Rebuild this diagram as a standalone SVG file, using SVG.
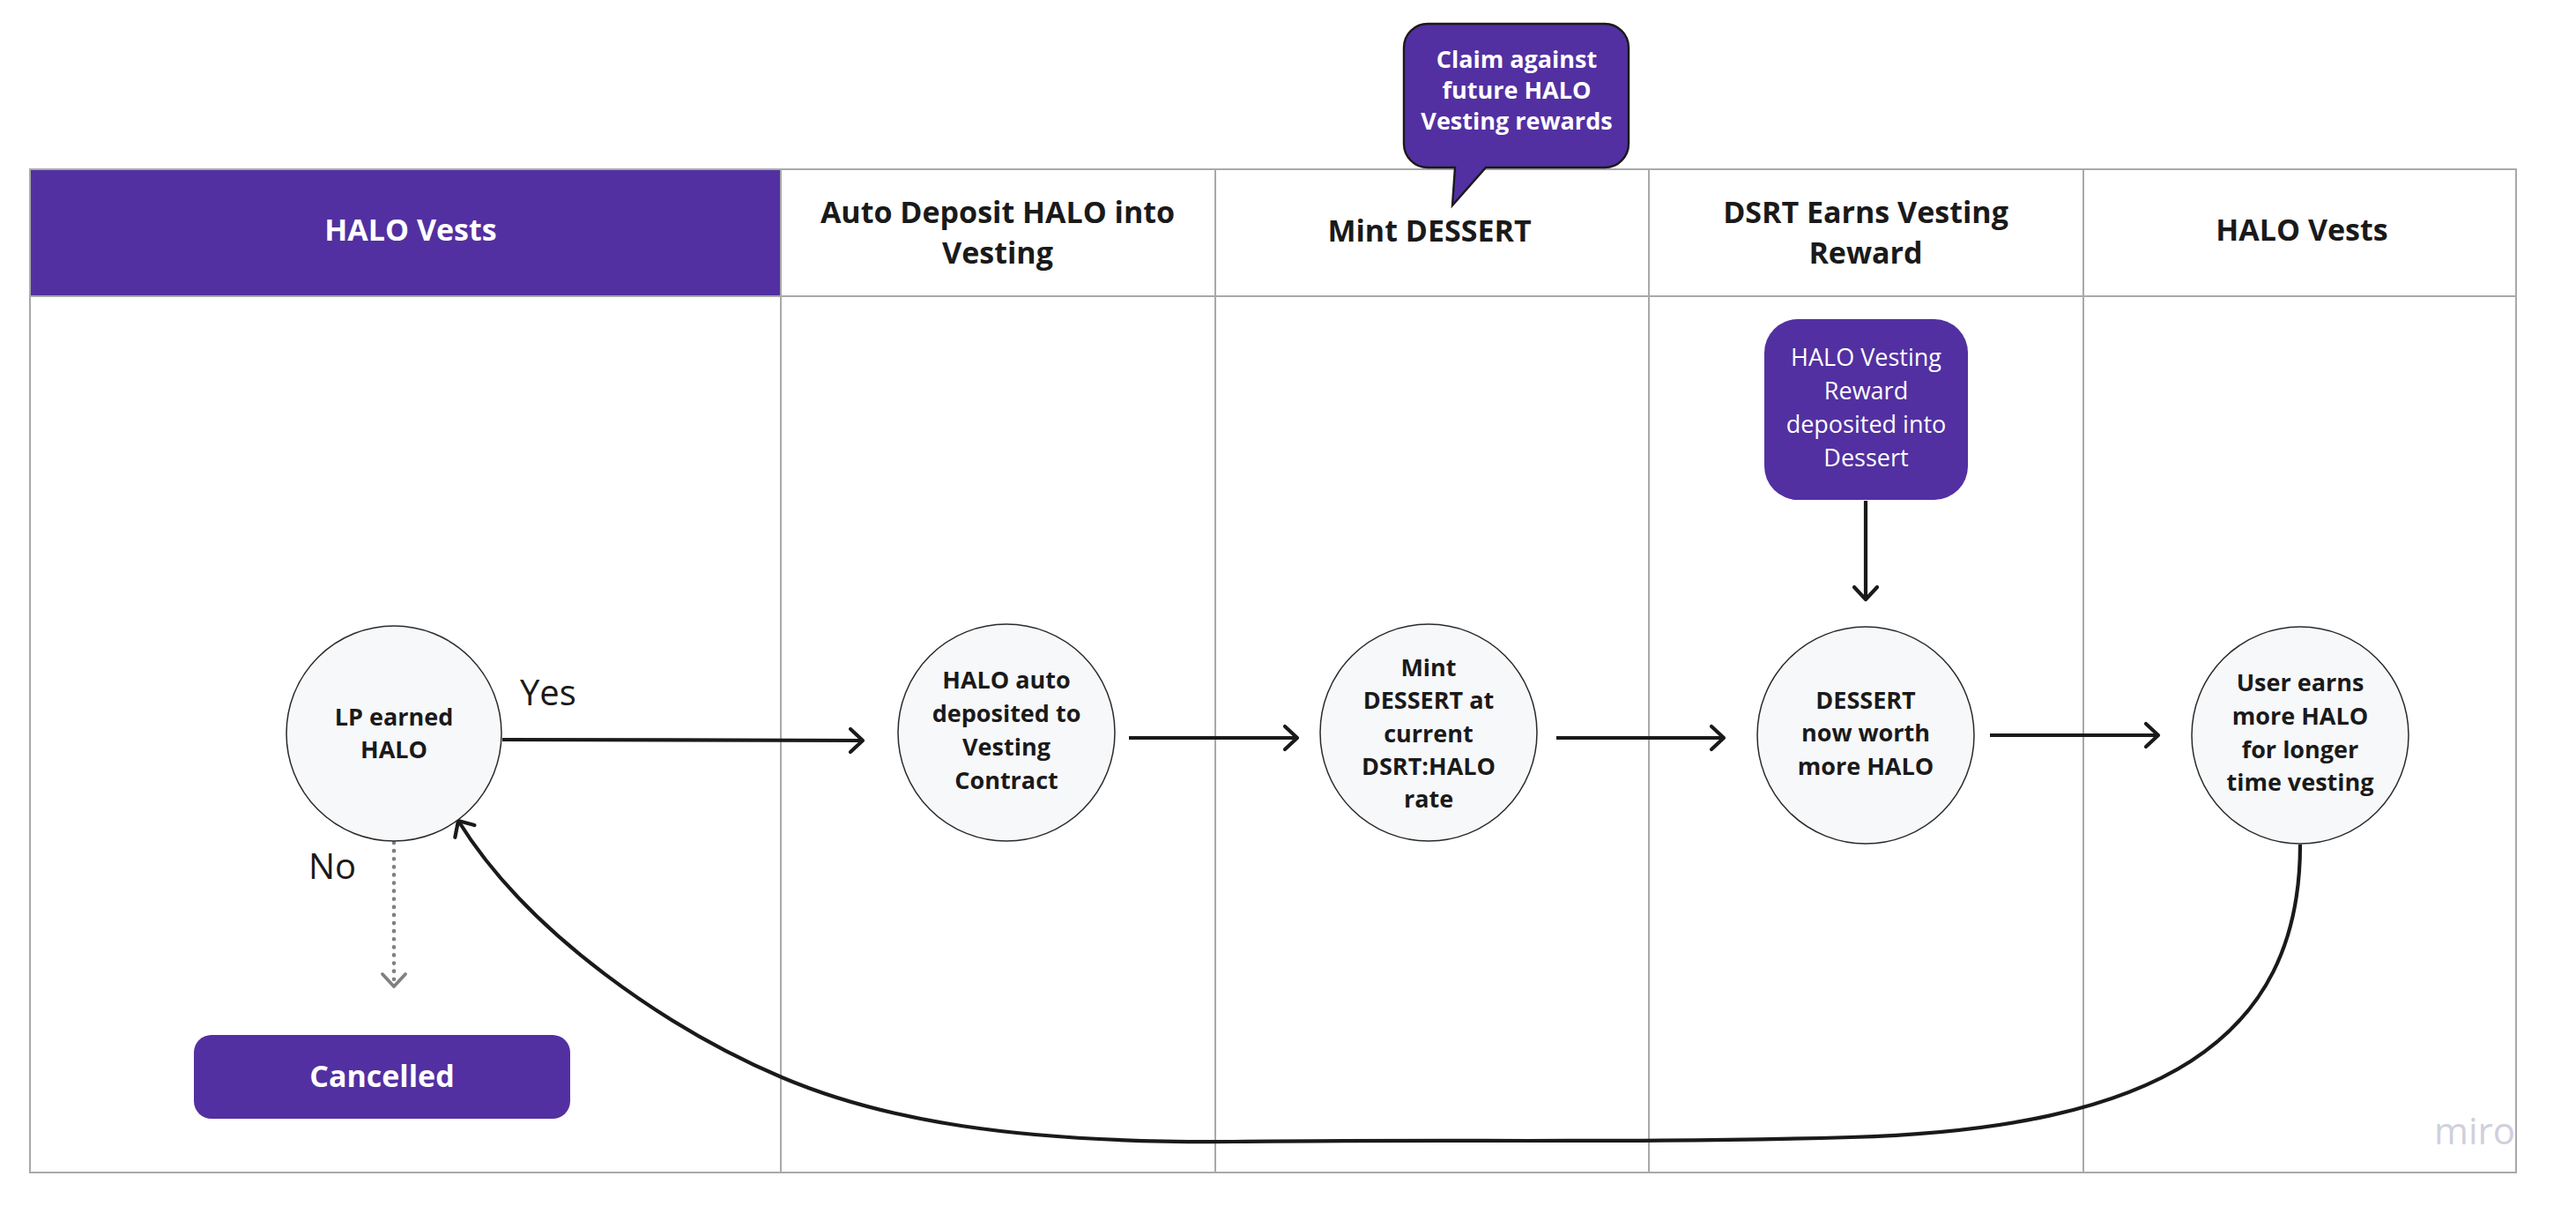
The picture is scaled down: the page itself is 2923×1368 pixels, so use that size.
<svg xmlns="http://www.w3.org/2000/svg" width="2923" height="1368" viewBox="0 0 2923 1368">
<style>
  text { font-family: "Open Sans", "Liberation Sans", sans-serif; fill: #1a1a1a; }
  .hdr { font-size: 34px; font-weight: 700; text-anchor: middle; }
  .hdr-w { fill: #ffffff; }
  .grid { stroke: #a9a9a9; stroke-width: 2; fill: none; }
  .circ { fill: #f7f8fa; stroke: #2a2a2a; stroke-width: 1.5; }
  .ct { font-size: 27px; font-weight: 700; text-anchor: middle; }
  .purple { fill: #5230a1; }
  .wt { fill: #ffffff; text-anchor: middle; }
  .lbl { font-size: 40px; font-weight: 400; }
  .conn { fill: none; stroke: #1a1a1a; stroke-width: 4.2; }
  .dot { fill: none; stroke: #808080; stroke-width: 4.6; stroke-dasharray: 0.1 9; stroke-linecap: round; }
</style>
<defs>
  <marker id="arr" viewBox="-18 -16 22 32" refX="0" refY="0" markerWidth="22" markerHeight="32" markerUnits="userSpaceOnUse" orient="auto" overflow="visible">
    <path d="M-14,-13 L0,0 L-14,13" fill="none" stroke="#1a1a1a" stroke-width="4.2" stroke-linecap="round" stroke-linejoin="round"/>
  </marker>
  <marker id="arrg" viewBox="-18 -16 22 32" refX="0" refY="0" markerWidth="22" markerHeight="32" markerUnits="userSpaceOnUse" orient="auto" overflow="visible">
    <path d="M-14,-13 L0,0 L-14,13" fill="none" stroke="#808080" stroke-width="3.8" stroke-linecap="round" stroke-linejoin="round"/>
  </marker>
</defs>

<rect x="0" y="0" width="2923" height="1368" fill="#ffffff"/>

<g id="table">
  <rect x="34" y="192" width="852" height="144" class="purple"/>
  <rect class="grid" x="34" y="192" width="2821" height="1138"/>
  <line class="grid" x1="34" y1="336" x2="2855" y2="336" stroke-width="3"/>
  <line class="grid" x1="886" y1="192" x2="886" y2="1330"/>
  <line class="grid" x1="1379" y1="192" x2="1379" y2="1330"/>
  <line class="grid" x1="1871" y1="192" x2="1871" y2="1330"/>
  <line class="grid" x1="2364" y1="192" x2="2364" y2="1330"/>
</g>

<g id="header-1"><text class="hdr hdr-w" x="466" y="273">HALO Vests</text></g>
<g id="header-2"><text class="hdr" x="1132" y="253">Auto Deposit HALO into</text><text class="hdr" x="1132" y="299">Vesting</text></g>
<g id="header-3"><text class="hdr" x="1622" y="274">Mint DESSERT</text></g>
<g id="header-4"><text class="hdr" x="2117" y="253">DSRT Earns Vesting</text><text class="hdr" x="2117" y="299">Reward</text></g>
<g id="header-5"><text class="hdr" x="2612" y="273">HALO Vests</text></g>

<g id="callout">
  <path class="purple" stroke="#1a1a1a" stroke-width="2.4" d="M1620,27 H1821 A27,27 0 0 1 1848,54 V163 A27,27 0 0 1 1821,190 H1686 L1648,233 L1651,190 H1620 A27,27 0 0 1 1593,163 V54 A27,27 0 0 1 1620,27 Z"/>
  <text class="wt" font-size="27" font-weight="700" x="1721" y="77">Claim against</text>
  <text class="wt" font-size="27" font-weight="700" x="1721" y="112">future HALO</text>
  <text class="wt" font-size="27" font-weight="700" x="1721" y="147">Vesting rewards</text>
</g>

<g id="connectors">
  <path class="conn" d="M570,839 L979,840" marker-end="url(#arr)"/>
  <path class="conn" d="M1281,837 L1472,837" marker-end="url(#arr)"/>
  <path class="conn" d="M1766,837 L1956,837" marker-end="url(#arr)"/>
  <path class="conn" d="M2258,834 L2449,834" marker-end="url(#arr)"/>
  <path class="conn" d="M2117,568 L2117,680" marker-end="url(#arr)"/>
  <path class="dot" d="M447,956 L447,1118"/>
  <path fill="none" stroke="none" d="M447,1100 L447,1119" marker-end="url(#arrg)"/>
  <path class="conn" d="M2610,958 C2610,1180 2450,1280 2100,1290 C1850,1297 1650,1292 1400,1295 C1150,1297 1000,1270 887,1222 C760,1168 600,1060 520,931" marker-end="url(#arr)"/>
</g>

<g id="lp-earned">
  <circle class="circ" cx="447" cy="832" r="122"/>
  <text class="ct" x="447" y="823">LP earned</text>
  <text class="ct" x="447" y="860">HALO</text>
</g>

<g id="label-yes"><text class="lbl" x="590" y="800">Yes</text></g>
<g id="label-no"><text class="lbl" x="350" y="997">No</text></g>

<g id="cancelled">
  <rect class="purple" x="220" y="1174" width="427" height="95" rx="20"/>
  <text class="wt" font-size="34" font-weight="700" x="433.5" y="1233">Cancelled</text>
</g>

<g id="halo-auto">
  <circle class="circ" cx="1142" cy="831" r="123"/>
  <text class="ct" x="1142" y="781">HALO auto</text>
  <text class="ct" x="1142" y="819">deposited to</text>
  <text class="ct" x="1142" y="857">Vesting</text>
  <text class="ct" x="1142" y="895">Contract</text>
</g>

<g id="mint">
  <circle class="circ" cx="1621" cy="831" r="123"/>
  <text class="ct" x="1621" y="767">Mint</text>
  <text class="ct" x="1621" y="804">DESSERT at</text>
  <text class="ct" x="1621" y="842">current</text>
  <text class="ct" x="1621" y="879">DSRT:HALO</text>
  <text class="ct" x="1621" y="916">rate</text>
</g>

<g id="vesting-reward">
  <rect class="purple" x="2002" y="362" width="231" height="205" rx="38"/>
  <text class="wt" font-size="27" x="2117.5" y="415">HALO Vesting</text>
  <text class="wt" font-size="27" x="2117.5" y="453">Reward</text>
  <text class="wt" font-size="27" x="2117.5" y="491">deposited into</text>
  <text class="wt" font-size="27" x="2117.5" y="529">Dessert</text>
</g>

<g id="dessert">
  <circle class="circ" cx="2117" cy="834" r="123"/>
  <text class="ct" x="2117" y="804">DESSERT</text>
  <text class="ct" x="2117" y="841">now worth</text>
  <text class="ct" x="2117" y="879">more HALO</text>
</g>

<g id="user-earns">
  <circle class="circ" cx="2610" cy="834" r="123"/>
  <text class="ct" x="2610" y="784">User earns</text>
  <text class="ct" x="2610" y="822">more HALO</text>
  <text class="ct" x="2610" y="860">for longer</text>
  <text class="ct" x="2610" y="897">time vesting</text>
</g>

<g id="watermark"><text x="2854" y="1298" font-size="42" text-anchor="end" style="fill:#cfd0dc">miro</text></g>
</svg>
